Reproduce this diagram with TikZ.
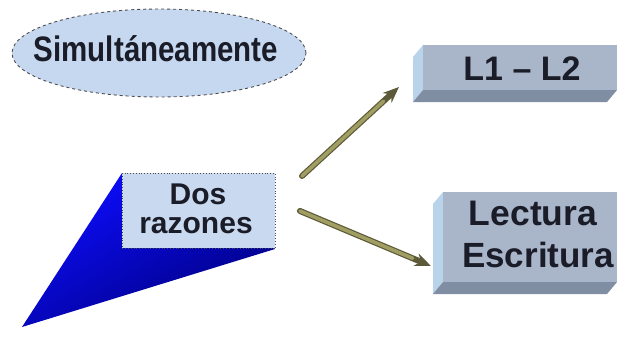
\documentclass[tikz,border=0pt]{standalone}
\usepackage{fontspec}
\setmainfont{Liberation Sans}
\usetikzlibrary{arrows.meta,shapes.geometric,calc}
\definecolor{txt}{HTML}{1A1C28}
\definecolor{ellfill}{HTML}{C6D8F0}
\definecolor{boxfront}{HTML}{A9B6CA}
\definecolor{boxleft}{HTML}{B9D3EA}
\definecolor{boxbottom}{HTML}{7F8EA2}
\definecolor{dosfill}{HTML}{C9D9F0}
\definecolor{arrfill}{HTML}{A09E62}
\definecolor{arredge}{HTML}{5C5A38}
\tikzset{
  lbl/.style={text=txt, font=\bfseries, inner sep=0pt, anchor=base},
  arrline/.style={line width=6pt, draw=arredge, line cap=round, -{Stealth[length=16pt,width=13pt]}},
  arrinner/.style={line width=3.6pt, draw=arrfill, line cap=round},
}
\begin{document}
\begin{tikzpicture}[x=1pt,y=-1pt]
\useasboundingbox (0,0) rectangle (621,337);
% ellipse
\node[ellipse, draw=gray!60!black, dashed, fill=ellfill, minimum width=294pt, minimum height=88pt, line width=0.9pt] (sim) at (159,53) {};
\node[lbl, font=\bfseries\fontsize{29.5}{30}\selectfont] (simt) at (156,62) {\scalebox{1}[1.2]{Simultáneamente}};
% L1-L2 box
\fill[boxleft] (423,45) -- (413,57) -- (413,102) -- (423,90) -- cycle;
\fill[boxbottom] (423,90) -- (617,90) -- (607,102) -- (413,102) -- cycle;
\node[fill=boxfront, minimum width=194pt, minimum height=45pt, inner sep=0pt, anchor=north west] (l12) at (423,45) {};
\node[lbl, font=\bfseries\fontsize{34}{36}\selectfont] (l12t) at (522,81) {L1 -- L2};
% Lectura box
\fill[boxleft] (443,192) -- (433,204) -- (433,294) -- (443,282) -- cycle;
\fill[boxbottom] (443,282) -- (617,282) -- (607,294) -- (433,294) -- cycle;
\node[fill=boxfront, minimum width=174pt, minimum height=90pt, inner sep=0pt, anchor=north west] (lec) at (443,192) {};
\node[lbl, font=\bfseries\fontsize{35.5}{37}\selectfont] (lect) at (533,225) {Lectura};
\node[lbl, font=\bfseries\fontsize{35}{37}\selectfont] (escr) at (538,267) {Escritura};
% blue extrusion
\shade[top color=blue!95!white, bottom color=blue!50!black, shading angle=30] (122,173) -- (275,249) -- (22,327) -- cycle;
% Dos razones box
\node[fill=dosfill, draw=gray!60!black, dotted, minimum width=153pt, minimum height=75pt, inner sep=0pt, anchor=north west, line width=0.8pt] (dos) at (122,173) {};
\node[lbl, font=\bfseries\fontsize{30}{32}\selectfont] (dost) at (198,204) {Dos};
\node[lbl, font=\bfseries\fontsize{30}{32}\selectfont] (razt) at (196,233) {razones};
% arrows
\coordinate (a1s) at (302,176);
\coordinate (a1e) at (399,87);
\coordinate (a2s) at (300,211);
\coordinate (a2e) at (431,266);
\draw[arrline] (a1s) -- (a1e);
\draw[arrinner] (a1s) -- ($ (a1s)!0.84!(a1e) $);
\draw[arrline] (a2s) -- (a2e);
\draw[arrinner] (a2s) -- ($ (a2s)!0.86!(a2e) $);
\end{tikzpicture}
\end{document}
